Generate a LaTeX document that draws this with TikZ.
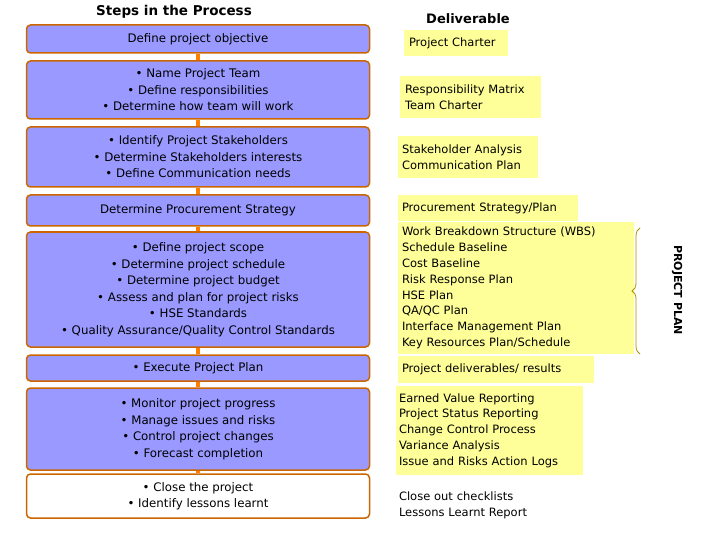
\documentclass[tikz,border=0pt]{standalone}
\usepackage{fontspec}
\setmainfont{DejaVu Sans}
\usetikzlibrary{decorations.pathreplacing}
\definecolor{lav}{HTML}{9999FF}
\definecolor{org}{HTML}{CC6600}
\definecolor{yel}{HTML}{FFFF99}
\begin{document}
\begin{tikzpicture}[x=1pt,y=-1pt,
 stepbox/.style={draw=org,line width=1.5pt,fill=lav,rounded corners=4pt,align=center,font=\fontsize{11.8}{16.5}\selectfont,inner sep=0pt},
 delbox/.style={fill=yel,align=left,font=\fontsize{11.5}{15.8}\selectfont,inner sep=0pt}]
\useasboundingbox (0,0) rectangle (720,540);
\node[font=\bfseries\fontsize{13.5}{15}\selectfont] (h1) at (174,12) {Steps in the Process};
\node[font=\bfseries\fontsize{13}{15}\selectfont] (h2) at (468,19) {Deliverable};
\newcommand\mystep[5]{\node[stepbox,minimum width=343pt,minimum height=#3pt,#4] (#1) at (198,#2) {#5};}
\mystep{s1}{39}{28}{}{Define project objective}
\mystep{s2}{90}{58}{}{• Name Project Team\\• Define responsibilities\\• Determine how team will work}
\mystep{s3}{157}{60}{}{• Identify Project Stakeholders\\• Determine Stakeholders interests\\• Define Communication needs}
\mystep{s4}{210.5}{31}{}{Determine Procurement Strategy}
\mystep{s5}{289.5}{115}{}{• Define project scope\\• Determine project schedule\\• Determine project budget\\• Assess and plan for project risks\\• HSE Standards\\• Quality Assurance/Quality Control Standards}
\mystep{s6}{368}{26}{}{• Execute Project Plan}
\mystep{s7}{429}{82}{}{• Monitor project progress\\• Manage issues and risks\\• Control project changes\\• Forecast completion}
\mystep{s8}{496}{44}{fill=white}{• Close the project\\• Identify lessons learnt}
\foreach \a/\b in {s1/s2,s2/s3,s3/s4,s4/s5,s5/s6,s6/s7,s7/s8}
  \draw[draw=orange,line width=4pt] (\a.south) -- (\b.north);
\newcommand\mydel[7]{\node[delbox,minimum width=#4pt,minimum height=#5pt,text width=#6pt] (#1) at (#2,#3) {#7};}
\mydel{d1}{456}{43}{104}{26}{94}{Project Charter}
\mydel{d2}{470.5}{97}{141}{42}{131}{Responsibility Matrix\\Team Charter}
\mydel{d3}{468}{157}{140}{42}{132}{Stakeholder Analysis\\Communication Plan}
\mydel{d4}{488}{208}{180}{26}{172}{Procurement Strategy/Plan}
\mydel{d5}{516}{288}{236}{132}{228}{Work Breakdown Structure (WBS)\\Schedule Baseline\\Cost Baseline\\Risk Response Plan\\HSE Plan\\QA/QC Plan\\Interface Management Plan\\Key Resources Plan/Schedule}
\mydel{d6}{496}{369.5}{196}{27}{188}{Project deliverables/ results}
\mydel{d7}{489.5}{430.5}{187}{89}{181}{Earned Value Reporting\\Project Status Reporting\\Change Control Process\\Variance Analysis\\Issue and Risks Action Logs}
\node[delbox,fill=none,minimum width=187pt,minimum height=40pt,text width=181pt] (d8) at (489.5,505) {Close out checklists\\Lessons Learnt Report};
\coordinate (bt) at (640,228);
\coordinate (bb) at (640,354);
\draw[draw=olive!70!orange,line width=0.8pt,decorate,decoration={brace,amplitude=8pt,mirror}] (bt) -- (bb);
\node[rotate=-90,font=\bfseries\fontsize{11}{13}\selectfont] (pp) at (677,290) {PROJECT PLAN};
\end{tikzpicture}
\end{document}
